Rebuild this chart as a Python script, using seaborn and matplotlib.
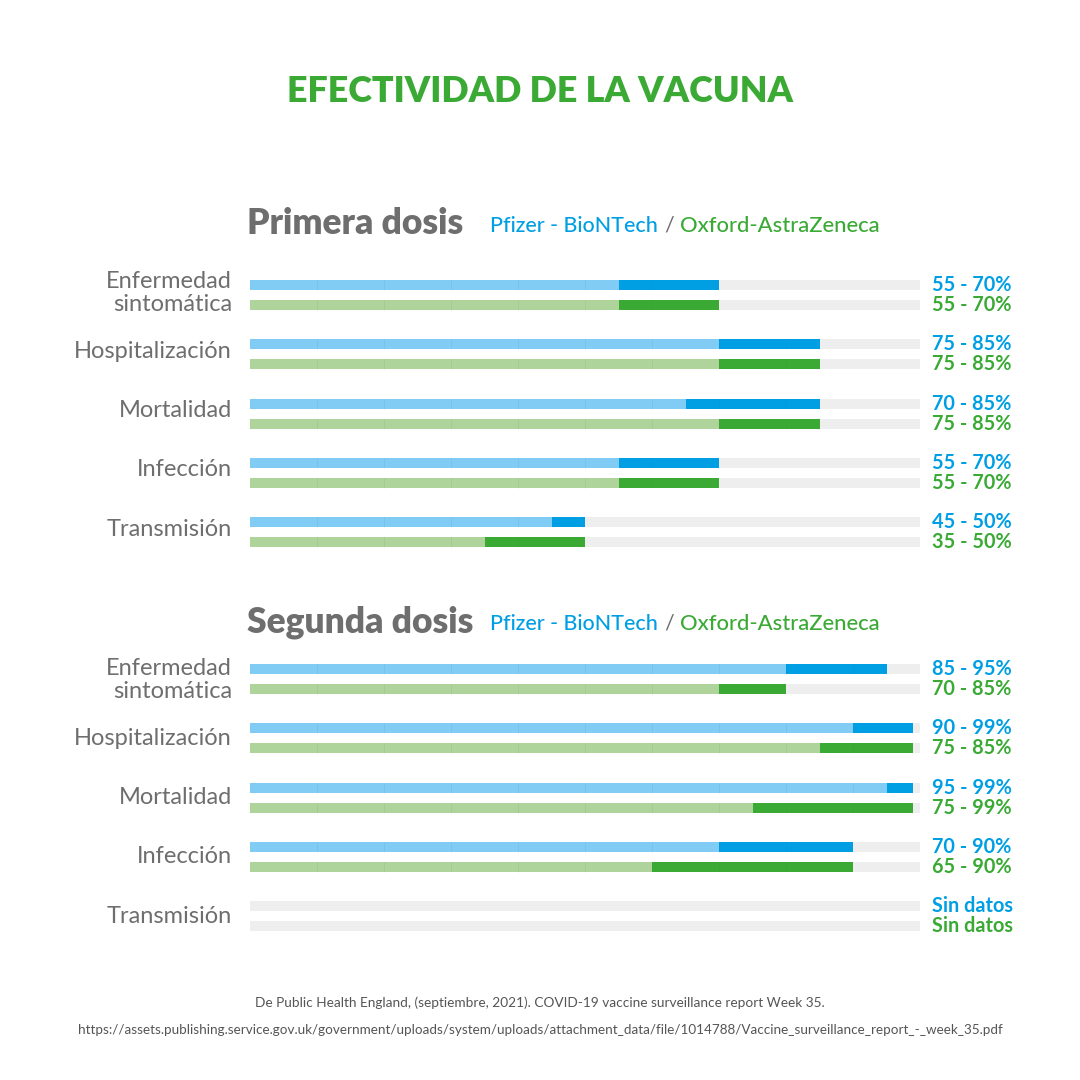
import numpy as np
import pandas as pd
import seaborn as sns
import matplotlib.pyplot as plt
from matplotlib.transforms import ScaledTranslation

# datos (barras tal como aparecen dibujadas; etiquetas tal como aparecen escritas)
categories = ["Enfermedad\nsintomática", "Hospitalización", "Mortalidad", "Infección", "Transmisión"]
vaccines = ["Pfizer - BioNTech", "Oxford-AstraZeneca"]

d1_pfizer_low = [55, 70, 65, 55, 45]
d1_pfizer_high = [70, 85, 85, 70, 50]
d1_az_low = [55, 70, 70, 55, 35]
d1_az_high = [70, 85, 85, 70, 50]
d1_pfizer_labels = ["55 - 70%", "75 - 85%", "70 - 85%", "55 - 70%", "45 - 50%"]
d1_az_labels = ["55 - 70%", "75 - 85%", "75 - 85%", "55 - 70%", "35 - 50%"]

d2_pfizer_low = [80, 90, 95, 70, 0]
d2_pfizer_high = [95, 99, 99, 90, 0]
d2_az_low = [70, 85, 75, 60, 0]
d2_az_high = [80, 99, 99, 90, 0]
d2_pfizer_labels = ["85 - 95%", "90 - 99%", "95 - 99%", "70 - 90%", "Sin datos"]
d2_az_labels = ["70 - 85%", "75 - 85%", "75 - 99%", "65 - 90%", "Sin datos"]

BLUE = "#009FE3"
LBLUE = "#80CCF5"
GREEN = "#3AAA35"
LGREEN = "#AFD49B"
GRAY = "#EEEEEE"
TXT = "#6E6E6E"

sns.set_theme(style="white")
plt.rcParams["font.family"] = ["Lato", "DejaVu Sans"]

fig = plt.figure(figsize=(10.8, 10.8), dpi=100)
fig.patch.set_facecolor("white")


def fx(px):
    return px / 1080


def fy(py):
    return 1 - py / 1080


def panel(top_px, p_low, p_high, a_low, a_high, p_lab, a_lab, label_shift=0):
    step = 59.25
    ax = fig.add_axes([fx(250), fy(top_px + 5 * step), fx(670), 5 * step / 1080])
    df = pd.DataFrame({
        "cat": categories * 2,
        "vac": [vaccines[0]] * 5 + [vaccines[1]] * 5,
        "low": p_low + a_low,
        "high": p_high + a_high,
    })
    df["full"] = 100
    kw = dict(data=df, y="cat", hue="vac", hue_order=vaccines, order=categories,
              orient="h", width=0.675, gap=0.5, legend=False, ax=ax,
              saturation=1, errorbar=None, linewidth=0, edgecolor="none")
    sns.barplot(x="full", palette=[GRAY, GRAY], **kw)
    sns.barplot(x="high", palette=[BLUE, GREEN], **kw)
    sns.barplot(x="low", palette=[LBLUE, LGREEN], **kw)

    # rayas verticales muy tenues cada 10 %
    for p in ax.patches:
        x0, w = p.get_x(), p.get_width()
        if w >= 100:
            continue
        y0, h = p.get_y(), p.get_height()
        for g in range(10, int(x0 + w), 10):
            if g > x0:
                ax.plot([g, g], [y0, y0 + h], color=(0, 0, 0, 0.025), lw=0.8, zorder=5)

    off = 0.675 / 4
    for i in range(5):
        ax.text(101.8, i - off, p_lab[i], color=BLUE, fontsize=14.3, fontweight="bold",
                va="center", ha="left", clip_on=False)
        ax.text(101.8, i + off, a_lab[i], color=GREEN, fontsize=14.3, fontweight="bold",
                va="center", ha="left", clip_on=False)

    ax.set_xlim(0, 100)
    ax.set_ylim(4.5, -0.5)
    ax.set_xticks([])
    ax.set_yticks(range(5))
    ax.set_yticklabels(categories, fontsize=17, color=TXT, linespacing=1.1)
    ax.tick_params(axis="y", length=0, pad=13)
    shift = ScaledTranslation(0, label_shift / 100, fig.dpi_scale_trans)
    for lab in ax.get_yticklabels():
        lab.set_transform(lab.get_transform() + shift)
    ax.set_xlabel("")
    ax.set_ylabel("")
    sns.despine(ax=ax, left=True, bottom=True)
    return ax


panel(265.4, d1_pfizer_low, d1_pfizer_high, d1_az_low, d1_az_high,
      d1_pfizer_labels, d1_az_labels, label_shift=5)
panel(649.4, d2_pfizer_low, d2_pfizer_high, d2_az_low, d2_az_high,
      d2_pfizer_labels, d2_az_labels, label_shift=2)

fig.text(0.5, fy(92), "EFECTIVIDAD DE LA VACUNA", ha="center", va="center",
         fontsize=25.8, fontweight="heavy", color=GREEN)

for title, ypx in [("Primera dosis", 224), ("Segunda dosis", 622)]:
    fig.text(fx(247), fy(ypx), title, ha="left", va="center", fontsize=25.5,
             fontweight="heavy", color=TXT)
    fig.text(fx(490), fy(ypx + 2), "Pfizer - BioNTech", ha="left", va="center",
             fontsize=15.5, color=BLUE, fontweight="medium")
    fig.text(fx(664), fy(ypx + 2), "/", ha="left", va="center", fontsize=15.5, color=TXT)
    fig.text(fx(680), fy(ypx + 2), "Oxford-AstraZeneca", ha="left", va="center",
             fontsize=15.8, color=GREEN, fontweight="medium")

fig.text(0.5, fy(1003), "De Public Health England, (septiembre, 2021). COVID-19 vaccine surveillance report Week 35.",
         ha="center", va="center", fontsize=9.8, color="#555555")
fig.text(0.5, fy(1030),
         "https://assets.publishing.service.gov.uk/government/uploads/system/uploads/attachment_data/file/1014788/Vaccine_surveillance_report_-_week_35.pdf",
         ha="center", va="center", fontsize=9.7, color="#555555")

fig.savefig("out.png", dpi=100, facecolor="white")
